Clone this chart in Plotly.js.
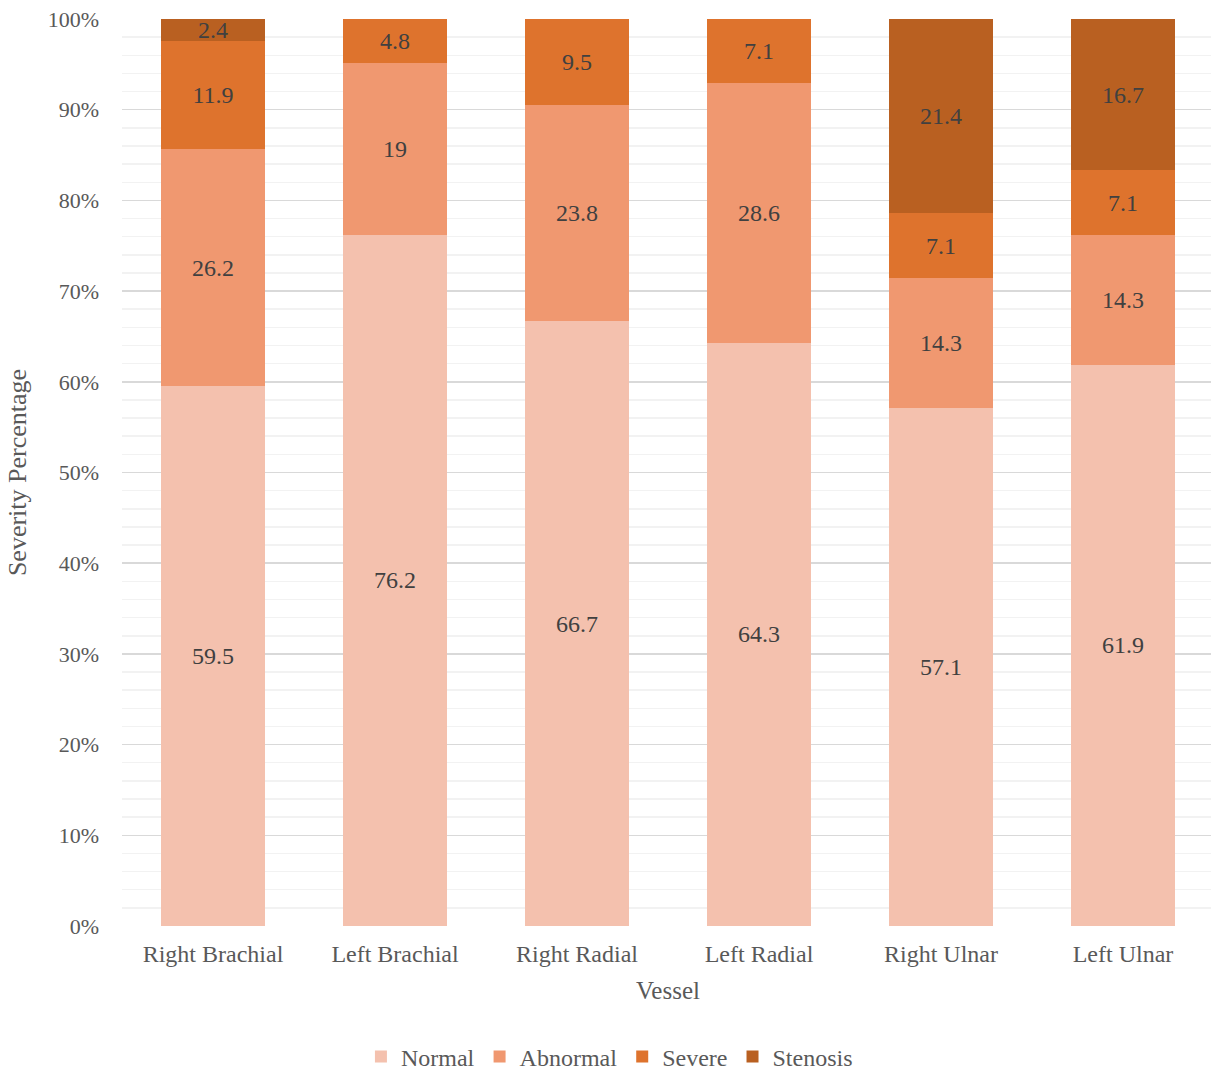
<!DOCTYPE html>
<html>
<head>
<meta charset="utf-8">
<script src="https://cdn.plot.ly/plotly-3.0.1.min.js"></script>
<style>html,body{margin:0;padding:0;background:#fff;overflow:hidden;}#chart{width:1214px;height:1072px;}</style>
</head>
<body>
<div id="chart"></div>
<script>
const vessels = ["Right Brachial", "Left Brachial", "Right Radial", "Left Radial", "Right Ulnar", "Left Ulnar"];
const normal   = [59.5, 76.2, 66.7, 64.3, 57.1, 61.9];
const abnormal = [26.2, 19.0, 23.8, 28.6, 14.3, 14.3];
const severe   = [11.9, 4.8, 9.5, 7.1, 7.1, 7.1];
const stenosis = [2.4, 0, 0, 0, 21.4, 16.7];
const seriesNames = ["Normal", "Abnormal", "Severe", "Stenosis"];
const seriesColors = ["#F4C1AE", "#F09870", "#DE732D", "#B96021"];
const yTicks = [0, 10, 20, 30, 40, 50, 60, 70, 80, 90, 100];

const font = "Liberation Serif, Times New Roman, serif";
const allSeries = [normal, abnormal, severe, stenosis];
const traces = allSeries.map((vals, i) => ({
  type: "bar",
  name: seriesNames[i],
  x: vessels,
  y: vals,
  text: vals.map(v => v > 0 ? String(v) : ""),
  texttemplate: "%{text}",
  textposition: "inside",
  insidetextanchor: "middle",
  textangle: 0,
  constraintext: "none",
  textfont: {family: font, size: 24, color: "#404040"},
  marker: {color: seriesColors[i], line: {width: 0}},
  hoverinfo: "x+y+name"
}));

const layout = {
  width: 1214, height: 1072,
  margin: {l: 122, r: 0, t: 19, b: 146},
  barmode: "stack",
  barnorm: "percent",
  bargap: 0.4286,
  paper_bgcolor: "#fff",
  plot_bgcolor: "#fff",
  font: {family: font, color: "#595959", size: 24},
  uniformtext: {mode: "show", minsize: 24},
  xaxis: {
    title: {text: "Vessel", font: {family: font, size: 25, color: "#595959"}, standoff: 15},
    tickfont: {family: font, size: 24, color: "#595959"},
    showline: false, ticks: "", showgrid: false, zeroline: false,
    ticklabelstandoff: 11, automargin: false
  },
  yaxis: {
    title: {text: "Severity Percentage", font: {family: font, size: 26, color: "#595959"}, standoff: 13},
    range: [0, 100],
    tickvals: yTicks,
    ticktext: yTicks.map(v => v + "%"),
    tickfont: {family: font, size: 22, color: "#595959"},
    showgrid: true, gridcolor: "#D9D9D9", gridwidth: 1.5,
    minor: {dtick: 2, showgrid: true, gridcolor: "#F2F2F2", gridwidth: 1.5},
    zeroline: false, showline: false, ticks: "", ticklabelstandoff: 22, automargin: false
  },
  legend: {
    orientation: "h", x: 0.502, xanchor: "center", xref: "container",
    y: 15 / 1072, yanchor: "middle", yref: "container",
    font: {family: font, size: 24, color: "#595959"},
    traceorder: "normal", tracegroupgap: 0
  },
  showlegend: true
};

Plotly.newPlot("chart", traces, layout, {displayModeBar: false, staticPlot: true});
</script>
</body>
</html>
